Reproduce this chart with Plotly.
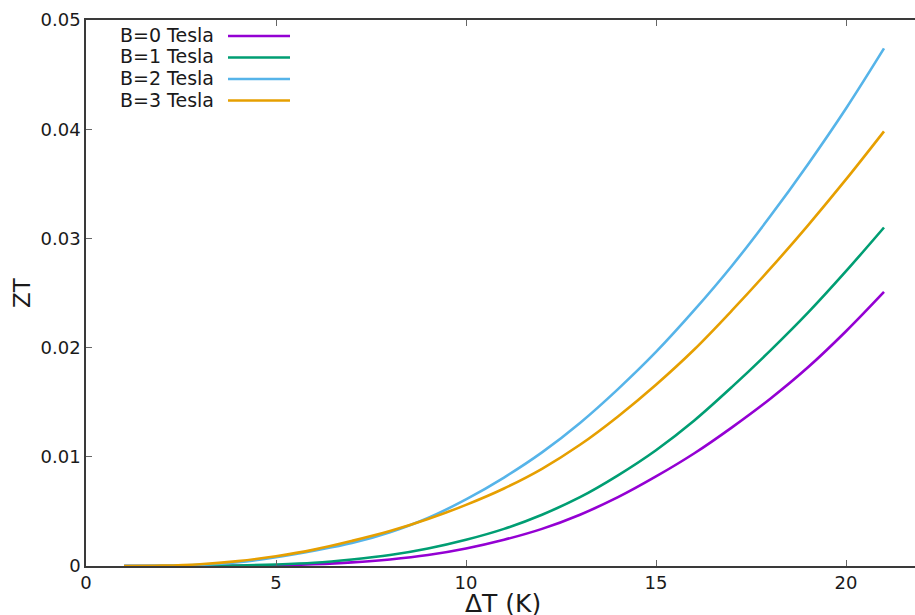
import plotly.graph_objects as go

# ---- data ----
delta_t = [1, 2, 3, 4, 5, 6, 7, 8, 9, 10, 11, 12, 13, 14, 15, 16, 17, 18, 19, 20, 21]
zt_b0 = [0.0, 0.0, 0.00001, 0.00002, 0.00006, 0.00016, 0.00033, 0.0006, 0.0010, 0.0016,
         0.0024, 0.0034, 0.0047, 0.0063, 0.0082, 0.0103, 0.0127, 0.0153, 0.0182, 0.0215, 0.0251]
zt_b1 = [0.0, 0.0, 0.00001, 0.00005, 0.00014, 0.0003, 0.0006, 0.0010, 0.0016, 0.0024,
         0.0034, 0.0047, 0.0063, 0.0083, 0.0106, 0.0133, 0.0164, 0.0197, 0.0232, 0.0270, 0.0310]
zt_b2 = [0.0, 0.00002, 0.0001, 0.00035, 0.0008, 0.0014, 0.0021, 0.0031, 0.0044, 0.0061,
         0.0081, 0.0104, 0.0131, 0.0162, 0.0196, 0.0234, 0.0275, 0.0320, 0.0368, 0.0419, 0.0474]
zt_b3 = [0.0, 0.00003, 0.00016, 0.00045, 0.0009, 0.0015, 0.0023, 0.0032, 0.0043, 0.0056,
         0.0071, 0.0089, 0.0111, 0.0137, 0.0166, 0.0198, 0.0234, 0.0272, 0.0312, 0.0354, 0.0398]

series_names = ["B=0 Tesla", "B=1 Tesla", "B=2 Tesla", "B=3 Tesla"]
series_values = [zt_b0, zt_b1, zt_b2, zt_b3]
series_colors = ["#9400D3", "#009E73", "#56B4E9", "#E69F00"]

x_ticks = [0, 5, 10, 15, 20]
x_ticklabels = ["0", "5", "10", "15", "20"]
y_ticks = [0, 0.01, 0.02, 0.03, 0.04, 0.05]
y_ticklabels = ["0", "0.01", "0.02", "0.03", "0.04", "0.05"]

# ---- layout geometry ----
W, H = 915, 615
L, R, T, B = 86, 0, 20, 49
plot_w = W - L - R
plot_h = H - T - B

FONT = "DejaVu Sans"
AXIS_COLOR = "#3a3a3a"
TEXT_COLOR = "#1a1a1a"

fig = go.Figure()
for name, vals, col in zip(series_names, series_values, series_colors):
    fig.add_trace(go.Scatter(
        x=delta_t, y=vals, mode="lines", name=name,
        line=dict(color=col, width=2.6, shape="spline", smoothing=1.0),
        showlegend=False,
    ))

# gnuplot-style key: text then line sample
key_text_right = 215
key_line_x0, key_line_x1 = 228, 290
key_rows_y = [36, 57.5, 79, 100.5]
for name, col, py in zip(series_names, series_colors, key_rows_y):
    yp = (H - B - py) / plot_h
    fig.add_annotation(
        x=(key_text_right - L) / plot_w, y=yp, xref="paper", yref="paper",
        text=name, showarrow=False, xanchor="right", yanchor="middle",
        font=dict(family=FONT, size=19, color=TEXT_COLOR), yshift=1, borderpad=0,
    )
    fig.add_shape(
        type="line", xref="paper", yref="paper",
        x0=(key_line_x0 - L) / plot_w, x1=(key_line_x1 - L) / plot_w, y0=yp, y1=yp,
        line=dict(color=col, width=2.6),
    )

# axis titles
fig.add_annotation(
    x=0, y=0.5, xref="paper", yref="paper", text="ZT", textangle=-90,
    showarrow=False, xanchor="center", yanchor="middle", xshift=22 - L,
    font=dict(family=FONT, size=23, color=TEXT_COLOR),
)
fig.add_annotation(
    x=(503 - L) / plot_w, y=0, xref="paper", yref="paper", text="ΔT (K)",
    showarrow=False, xanchor="center", yanchor="top", yshift=-22, borderpad=0,
    font=dict(family=FONT, size=25, color=TEXT_COLOR),
)

fig.update_layout(
    width=W, height=H,
    margin=dict(l=L, r=R, t=T, b=B, autoexpand=False),
    paper_bgcolor="white", plot_bgcolor="white",
    font=dict(family=FONT, size=18, color=TEXT_COLOR),
)
fig.update_xaxes(
    range=[0, plot_w / 38.0], tickvals=x_ticks, ticktext=x_ticklabels,
    showgrid=False, zeroline=False, showline=True, linecolor=AXIS_COLOR, linewidth=1.5,
    mirror="ticks", ticks="inside", ticklen=6, tickcolor="#666", tickwidth=1.2,
    tickfont=dict(family=FONT, size=18, color=TEXT_COLOR), automargin=False,
)
fig.update_yaxes(
    range=[0, 0.05], tickvals=y_ticks, ticktext=y_ticklabels,
    showgrid=False, zeroline=False, showline=True, linecolor=AXIS_COLOR, linewidth=1.5,
    ticks="inside", ticklen=6, tickcolor="#666", tickwidth=1.2,
    tickfont=dict(family=FONT, size=18, color=TEXT_COLOR), automargin=False,
)

fig.write_html("out.html")
